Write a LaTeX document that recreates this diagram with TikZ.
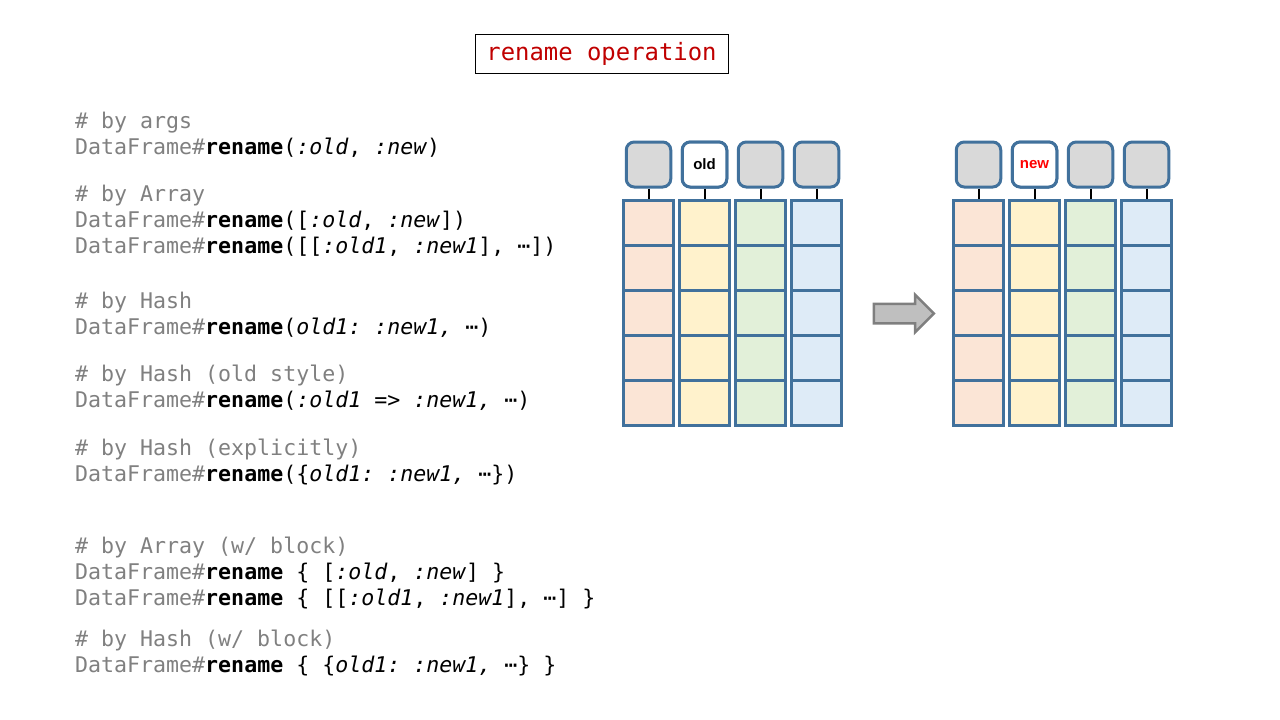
\documentclass[tikz,border=0pt]{standalone}
\usepackage{fontspec}
\setmonofont{DejaVu Sans Mono}
\setsansfont{Liberation Sans}
\usetikzlibrary{shapes.arrows}
\definecolor{cgray}{HTML}{808080}
\definecolor{tred}{HTML}{C00000}
\definecolor{bblue}{HTML}{41719C}
\definecolor{fA}{HTML}{FBE5D6}
\definecolor{fB}{HTML}{FFF2CC}
\definecolor{fC}{HTML}{E2F0D9}
\definecolor{fD}{HTML}{DEEBF7}
\definecolor{hgray}{HTML}{D9D9D9}
\definecolor{agray}{HTML}{BFBFBF}
\definecolor{aedge}{HTML}{7F7F7F}
\newcommand\cmt[1]{{\color{cgray}#1}}
\newcommand\rnm{\textbf{rename}}
\newcommand\DF{\cmt{DataFrame\#}}
\tikzset{
  code/.style={anchor=base west, inner sep=0pt, font=\ttfamily\fontsize{21.6}{26}\selectfont},
  cell/.style={draw=bblue, line width=3pt, minimum width=50.5pt, minimum height=45pt, inner sep=0pt},
  hdr/.style={draw=bblue, line width=3pt, fill=hgray, rounded corners=8pt, minimum width=44.5pt, minimum height=45pt, inner sep=0pt, font=\sffamily\bfseries\fontsize{15}{17}\selectfont},
  link/.style={draw=black, line width=2pt},
}
\begin{document}
\begin{tikzpicture}[x=1pt,y=-1pt]
\useasboundingbox (0,0) rectangle (1280,720);
% title
\node[draw=black, line width=1pt, minimum width=253pt, minimum height=39pt, inner sep=0pt,
      font=\ttfamily\fontsize{23.9}{26}\selectfont, text=tred] (title) at (601.5,53.5) {rename operation};
% code lines
\node[code] (c1)  at (75,128.5) {\cmt{\# by args}};
\node[code] (c2)  at (75,154.5) {\DF\rnm(\textit{:old}, \textit{:new})};
\node[code] (c3)  at (75,201.5) {\cmt{\# by Array}};
\node[code] (c4)  at (75,227.5) {\DF\rnm([\textit{:old}, \textit{:new}])};
\node[code] (c5)  at (75,253.5) {\DF\rnm([[\textit{:old1}, \textit{:new1}], ⋯])};
\node[code] (c6)  at (75,308.5) {\cmt{\# by Hash}};
\node[code] (c7)  at (75,334.5) {\DF\rnm(\textit{old1: :new1, ⋯})};
\node[code] (c8)  at (75,381.5) {\cmt{\# by Hash (old style)}};
\node[code] (c9)  at (75,407.5) {\DF\rnm(\textit{:old1 => :new1, ⋯})};
\node[code] (c10) at (75,455.5) {\cmt{\# by Hash (explicitly)}};
\node[code] (c11) at (75,481.5) {\DF\rnm(\{\textit{old1: :new1, ⋯}\})};
\node[code] (c12) at (75,553.5) {\cmt{\# by Array (w/ block)}};
\node[code] (c13) at (75,579.5) {\DF\rnm{} \{ [\textit{:old}, \textit{:new}] \}};
\node[code] (c14) at (75,605.5) {\DF\rnm{} \{ [[\textit{:old1}, \textit{:new1}], ⋯] \}};
\node[code] (c15) at (75,646.5) {\cmt{\# by Hash (w/ block)}};
\node[code] (c16) at (75,672.5) {\DF\rnm{} \{ \{\textit{old1: :new1, ⋯}\} \}};
% tables
\foreach \t/\x in {L/648.5, R/978.5}{
  \foreach \c/\col in {1/fA, 2/fB, 3/fC, 4/fD}{
    \foreach \r in {1,...,5}{
      \node[cell, fill=\col] (\t\c-\r) at ({\x+(\c-1)*56}, {222.5+(\r-1)*45}) {};
    }
  }
}
\foreach \t/\x in {L/648.5, R/978.5}{
  \foreach \c in {1,...,4}{
    \node[hdr] (\t\c h) at ({\x+(\c-1)*56}, 164.5) {};
    \draw[link] (\t\c h.south) -- (\t\c-1.north);
  }
}
\node[hdr, fill=white] (L2h) at (704.5,164.5) {old};
\node[hdr, fill=white, text={rgb,255:red,255;green,0;blue,0}] (R2h) at (1034.5,164.5) {new};
% arrow
\node[single arrow, draw=aedge, fill=agray, line width=2.5pt, inner xsep=0pt, inner ysep=8.5pt,
      minimum height=60pt, single arrow head extend=9pt] (arr) at (899,313.5) {};
\end{tikzpicture}
\end{document}
